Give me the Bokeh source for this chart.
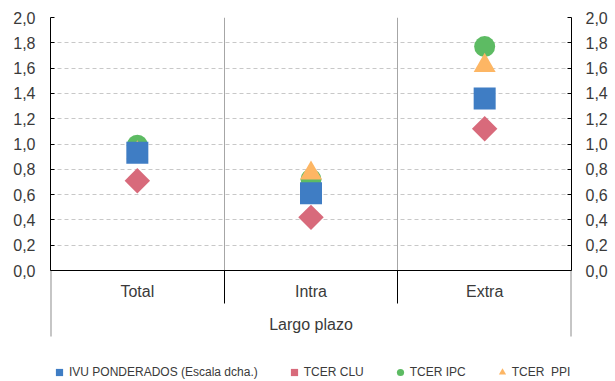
from bokeh.plotting import figure
from bokeh.models import (ColumnDataSource, FactorRange, Range1d, LinearAxis,
                          CategoricalAxis, FixedTicker, Grid, Legend, LegendItem)
from bokeh.embed import file_html
from bokeh.resources import INLINE

# Long-term elasticities by trade area
categories = ["Total", "Intra", "Extra"]
ivu_ponderados = [0.93, 0.61, 1.36]   # right-hand scale
tcer_clu = [0.71, 0.42, 1.12]
tcer_ipc = [0.99, 0.72, 1.77]
tcer_ppi = [0.93, 0.77, 1.62]

y_ticks = [0.0, 0.2, 0.4, 0.6, 0.8, 1.0, 1.2, 1.4, 1.6, 1.8, 2.0]
y_labels = ["0,0", "0,2", "0,4", "0,6", "0,8", "1,0", "1,2", "1,4", "1,6", "1,8", "2,0"]
group_label = "Largo plazo"
group_edges = [0, 3]        # outer bounds of the category block
category_edges = [1, 2]     # separators between categories

FONT = "Liberation Sans"
TEXT = "#3a3a3a"

# the drawing area runs on below zero so that the category band and legend
# live inside it: 253 px per 2.0 units above the baseline, 111 px below it
Y_TOP = 2.0
Y_BOTTOM = -Y_TOP * 111 / 253

source = ColumnDataSource(dict(cat=categories, ivu=ivu_ponderados, clu=tcer_clu,
                               ipc=tcer_ipc, ppi=tcer_ppi))

p = figure(width=615, height=381, x_range=FactorRange(*categories),
           y_range=Range1d(Y_BOTTOM, Y_TOP), output_backend="svg", toolbar_location=None,
           min_border_left=50, min_border_right=44, min_border_top=17,
           min_border_bottom=0, x_axis_type=None, y_axis_type=None)
p.outline_line_color = None
p.extra_y_ranges = {"dcha": Range1d(Y_BOTTOM, Y_TOP)}

overrides = dict(zip(y_ticks, y_labels))

def style_y(axis, standoff):
    axis.ticker = FixedTicker(ticks=y_ticks)
    axis.bounds = (y_ticks[0], y_ticks[-1])
    axis.major_label_overrides = overrides
    axis.axis_line_color = "black"
    axis.major_tick_line_color = "black"
    axis.major_tick_in = 4
    axis.major_tick_out = 0
    axis.minor_tick_line_color = None
    axis.major_label_standoff = standoff
    axis.major_label_text_font = FONT
    axis.major_label_text_font_size = "16px"
    axis.major_label_text_color = TEXT

left = LinearAxis()
style_y(left, 15)
p.add_layout(left, "left")
right = LinearAxis(y_range_name="dcha")
style_y(right, 14)
p.add_layout(right, "right")

# horizontal dashed grid
p.add_layout(Grid(dimension=1, ticker=FixedTicker(ticks=y_ticks),
                  grid_line_color="#c8c8c8", grid_line_dash="4 3"))

# vertical lines anchored on the baseline (y = 0)
def edge_ticks(ticks, up, down, color, width=1):
    ax = LinearAxis(fixed_location=0, ticker=FixedTicker(ticks=ticks))
    ax.axis_line_color = None
    ax.minor_tick_line_color = None
    ax.major_tick_in = up
    ax.major_tick_out = down
    ax.major_tick_line_color = color
    ax.major_tick_line_width = width
    ax.major_label_text_color = None
    return ax

p.add_layout(edge_ticks(category_edges, 253, 0, "#a6a6a6"), "below")
p.add_layout(edge_ticks(category_edges, 0, 33, "black"), "below")
p.add_layout(edge_ticks(group_edges, 0, 66, "#8c8c8c", 2), "below")

# category axis with the group title
xax = CategoricalAxis(fixed_location=0)
xax.axis_line_color = "black"
xax.major_tick_in = 0
xax.major_tick_out = 0
xax.major_tick_line_color = None
xax.minor_tick_line_color = None
xax.major_label_standoff = 12
xax.major_label_text_font = FONT
xax.major_label_text_font_size = "16px"
xax.major_label_text_color = TEXT
xax.axis_label = group_label
xax.axis_label_standoff = 13
xax.axis_label_text_font = FONT
xax.axis_label_text_font_size = "16px"
xax.axis_label_text_font_style = "normal"
xax.axis_label_text_color = TEXT
p.add_layout(xax, "below")

r_ipc = p.scatter("cat", "ipc", source=source, marker="circle", size=21,
                  fill_color="#5dbb63", line_color=None)
r_ppi = p.scatter("cat", "ppi", source=source, marker="triangle", size=22,
                  fill_color="#fdb664", line_color=None)
r_ivu = p.scatter("cat", "ivu", source=source, marker="square", size=22,
                  fill_color="#3f7dc4", line_color=None, y_range_name="dcha")
r_clu = p.scatter("cat", "clu", source=source, marker="square", size=18, angle=0.785398,
                  fill_color="#d86a7b", line_color=None)

legend = Legend(items=[
    LegendItem(label="IVU PONDERADOS (Escala dcha.)", renderers=[r_ivu]),
    LegendItem(label="TCER CLU", renderers=[r_clu]),
    LegendItem(label="TCER IPC", renderers=[r_ipc]),
    LegendItem(label="TCER  PPI", renderers=[r_ppi]),
], orientation="horizontal", location=(0, 0))
legend.glyph_width = 18
legend.glyph_height = 18
legend.label_height = 18
legend.label_standoff = 1
legend.spacing = 27
legend.padding = 0
legend.margin = 0
legend.border_line_color = None
legend.background_fill_alpha = 0
legend.label_text_font = FONT
legend.label_text_font_size = "12px"
legend.label_text_color = TEXT
p.add_layout(legend)

open("out.html", "w").write(file_html(p, INLINE))
